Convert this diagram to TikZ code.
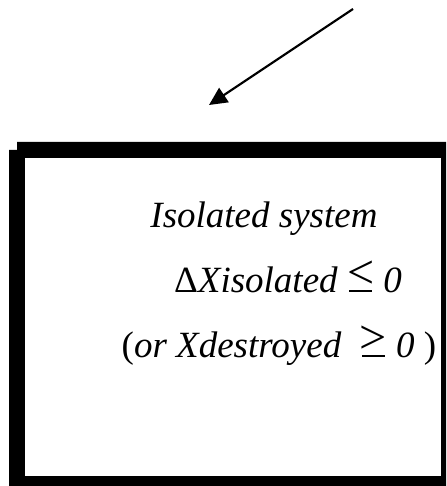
\documentclass[tikz,border=0pt]{standalone}
\usepackage{graphicx}
\usepackage{fontspec}
\setmainfont{Liberation Serif}
\usetikzlibrary{arrows.meta}
\newcommand{\myleq}{\mbox{\ooalign{\raisebox{0.1em}{\scalebox{1.3}{<}}\cr\hidewidth\rule{0.6em}{0.05em}\hidewidth\cr}}}
\newcommand{\mygeq}{\mbox{\ooalign{\raisebox{0.1em}{\scalebox{1.3}{>}}\cr\hidewidth\rule{0.6em}{0.05em}\hidewidth\cr}}}
\tikzset{
  label/.style={inner sep=0pt, anchor=base, font=\fontsize{37}{44}\selectfont},
  arrowline/.style={line width=2.2pt, -{Triangle[length=18pt,width=17pt]}}
}
\begin{document}
\begin{tikzpicture}[x=1pt,y=-1pt]
\useasboundingbox (0,0) rectangle (446,486);
% frame with shadow
\fill[black] (17,142) -- (446,142) -- (446,486) -- (9,486) -- (9,150) -- (17,150) -- cycle;
\fill[white] (25,158) rectangle (441,476);
% arrow
\coordinate (s) at (353,9);
\coordinate (t) at (209,105);
\draw[arrowline] (s) -- (t);
% texts
\node[label] (l1) at (264,227) {\itshape Isolated system};
\node[label] (l2) at (288,292) {\upshape Δ\itshape Xisolated\/\ \upshape\myleq\ \itshape 0};
\node[label] (l3) at (279,357) {(\itshape or Xdestroyed\/\ \ \upshape\mygeq\ \itshape 0\/\ \upshape)};
\end{tikzpicture}
\end{document}
